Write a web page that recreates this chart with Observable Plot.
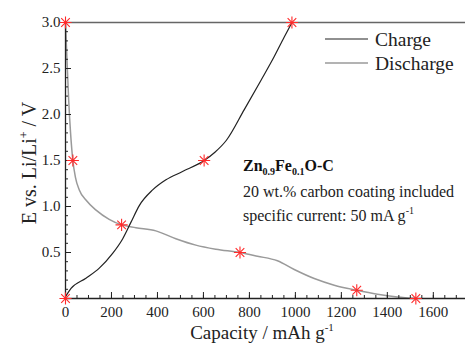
<!DOCTYPE html>
<html>
<head>
<meta charset="utf-8">
<script src="https://cdn.jsdelivr.net/npm/d3@7"></script>
<script src="https://cdn.jsdelivr.net/npm/@observablehq/plot@0.6"></script>
<style>
  html, body { margin: 0; padding: 0; background: #fff; }
  #chart svg { display: block; }
</style>
</head>
<body>
<div id="chart"></div>
<script>
// Charge curve (capacity mAh/g, potential V)
const chargeX = [0, 24, 89, 147, 205, 249, 285, 321, 379, 437, 509, 603, 650, 700, 777, 850, 908, 951, 985];
const chargeY = [0.02, 0.11, 0.22, 0.33, 0.49, 0.65, 0.83, 1.01, 1.18, 1.29, 1.38, 1.50, 1.59, 1.72, 2.05, 2.37, 2.63, 2.84, 3.0];
// Discharge curve
const dischargeX = [0, 4, 8, 14, 22, 32, 43, 60, 89, 133, 190, 244, 306, 393, 480, 567, 654, 759, 835, 922, 995, 1082, 1169, 1267, 1357, 1444, 1524];
const dischargeY = [3.0, 2.75, 2.5, 2.15, 1.8, 1.5, 1.32, 1.18, 1.07, 0.96, 0.86, 0.80, 0.77, 0.735, 0.65, 0.58, 0.536, 0.50, 0.46, 0.41, 0.315, 0.217, 0.145, 0.09, 0.047, 0.017, 0.0];
// Red asterisk markers
const starX = [0, 32, 244, 759, 1267, 1524, 0, 603, 985];
const starY = [3.0, 1.5, 0.8, 0.5, 0.09, 0.0, 0.0, 1.5, 3.0];
// Ticks
const xLabelTicks = [0, 200, 400, 600, 800, 1000, 1200, 1400, 1600];
const xMinorTicks = d3.range(0, 1741, 50);
const yLabelTicks = [0.5, 1.0, 1.5, 2.0, 2.5, 3.0];
const yMinorTicks = d3.range(0, 31, 1).map(d => d / 10);
const yMajorTicks = [0, 0.5, 1.0, 1.5, 2.0, 2.5, 3.0];

const charge = chargeX.map((x, i) => ({x, y: chargeY[i]}));
const discharge = dischargeX.map((x, i) => ({x, y: dischargeY[i]}));
const stars = starX.map((x, i) => ({x, y: starY[i]}));

const font = "\"Liberation Serif\", \"DejaVu Serif\", serif";
const axisColor = "#222";

const chart = Plot.plot({
  width: 465,
  height: 345,
  marginLeft: 65,
  marginRight: 0,
  marginTop: 22,
  marginBottom: 47,
  style: {fontSize: "15px", color: axisColor, background: "#fff"},
  x: {domain: [0, 1740]},
  y: {domain: [0, 3]},
  marks: [
    Plot.ruleY([3], {stroke: "#666", strokeWidth: 1.5}),
    Plot.line(discharge, {x: "x", y: "y", stroke: "#9a9a9a", strokeWidth: 1.5, curve: "monotone-x"}),
    Plot.line(charge, {x: "x", y: "y", stroke: "#222", strokeWidth: 1.2, curve: "monotone-x"}),
    // x axis
    Plot.axisX(xMinorTicks, {tickSize: -3, tickFormat: () => "", label: null, strokeWidth: 1}),
    Plot.axisX(xLabelTicks, {tickSize: -6, tickFormat: () => "", label: null, strokeWidth: 1}),
    Plot.axisX(xLabelTicks, {tickSize: 0, tickPadding: 8, tickFormat: d3.format("d"), label: null, fontSize: 15}),
    // y axis
    Plot.axisY(yMinorTicks, {tickSize: -3, tickFormat: () => "", label: null, strokeWidth: 1}),
    Plot.axisY(yMajorTicks, {tickSize: -6, tickFormat: () => "", label: null, strokeWidth: 1}),
    Plot.axisY(yLabelTicks, {tickSize: 0, tickPadding: 5, tickFormat: d3.format(".1f"), label: null, fontSize: 15}),
    Plot.ruleY([0], {stroke: axisColor, strokeWidth: 1.3}),
    Plot.ruleX([0], {stroke: axisColor, strokeWidth: 1.3}),
    // markers
    Plot.dot(stars, {x: "x", y: "y", symbol: "plus", r: 4, stroke: "#ff2a2a", strokeWidth: 1.1, clip: false}),
    Plot.dot(stars, {x: "x", y: "y", symbol: "times", r: 4, stroke: "#ff2a2a", strokeWidth: 1.1, clip: false})
  ]
});

const svg = d3.select(chart);
svg.attr("overflow", "visible");

// Axis titles
const xt = svg.append("text")
  .attr("x", 262).attr("y", 339)
  .attr("text-anchor", "middle")
  .attr("font-size", 19).attr("fill", "#222");
xt.append("tspan").text("Capacity / mAh g");
xt.append("tspan").attr("dy", -8).attr("font-size", 11).text("-1");

const yt = svg.append("text")
  .attr("transform", "translate(36,163) rotate(-90)")
  .attr("text-anchor", "middle")
  .attr("font-size", 20).attr("fill", "#222");
yt.append("tspan").text("E vs. Li/Li");
yt.append("tspan").attr("dy", -8).attr("font-size", 12).text("+");
yt.append("tspan").attr("dy", 8).text(" / V");

// Legend
const legend = [
  {label: "Charge", color: "#222", width: 1.2, y: 39},
  {label: "Discharge", color: "#9a9a9a", width: 1.5, y: 63}
];
legend.forEach(l => {
  svg.append("line").attr("x1", 325).attr("x2", 368).attr("y1", l.y).attr("y2", l.y)
    .attr("stroke", l.color).attr("stroke-width", l.width);
  svg.append("text").attr("x", 375).attr("y", l.y + 6.5)
    .attr("text-anchor", "start")
    .attr("font-size", 19.5).attr("fill", "#222").text(l.label);
});

// Annotation
const a1 = svg.append("text").attr("x", 243).attr("y", 171)
  .attr("text-anchor", "start")
  .attr("font-size", 16).attr("font-weight", "bold").attr("fill", "#111");
a1.append("tspan").text("Zn");
a1.append("tspan").attr("dy", 4).attr("font-size", 10).text("0.9");
a1.append("tspan").attr("dy", -4).text("Fe");
a1.append("tspan").attr("dy", 4).attr("font-size", 10).text("0.1");
a1.append("tspan").attr("dy", -4).text("O-C");

svg.append("text").attr("x", 243).attr("y", 197)
  .attr("text-anchor", "start")
  .attr("font-size", 16).attr("fill", "#222")
  .text("20 wt.% carbon coating included");

const a3 = svg.append("text").attr("x", 243).attr("y", 221)
  .attr("text-anchor", "start")
  .attr("font-size", 16).attr("fill", "#222");
a3.append("tspan").text("specific current: 50 mA g");
a3.append("tspan").attr("dy", -7).attr("font-size", 10).text("-1");

// Serif typeface for every text element, ticks included
svg.style("font-family", font);
svg.selectAll("g").style("font-family", font);
svg.selectAll("text").style("font-family", font).style("font-variant", "normal");

document.getElementById("chart").appendChild(chart);
</script>
</body>
</html>
